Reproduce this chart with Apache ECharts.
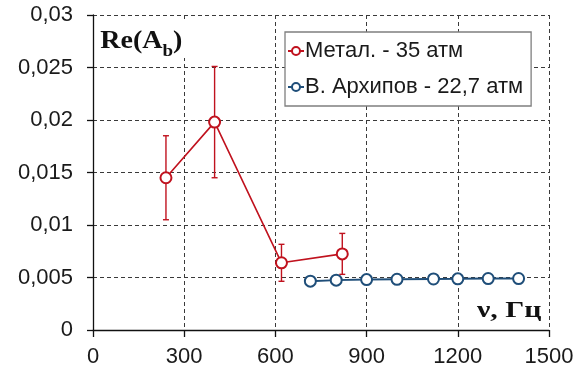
<!DOCTYPE html>
<html>
<head>
<meta charset="utf-8">
<script src="https://cdn.jsdelivr.net/npm/echarts@6/dist/echarts.min.js"></script>
<style>
  html, body { margin: 0; padding: 0; background: #fff; }
  #chart { width: 582px; height: 372px; }
</style>
</head>
<body>
<div id="chart"></div>
<script>
// Frequency (Hz) and Re(A_b) for the two measurement sets
const metalName = 'Метал. - 35 атм';
const metalFreq = [240, 400, 620, 820];
const metalRe = [0.0145, 0.0198, 0.0064, 0.00725];
const metalErr = [0.0040, 0.0053, 0.00176, 0.00195];

const arkhName = 'В. Архипов - 22,7 атм';
const arkhFreq = [715, 800, 900, 1000, 1120, 1200, 1300, 1400];
const arkhRe = [0.00465, 0.00475, 0.0048, 0.00483, 0.00486, 0.00487, 0.0049, 0.0049];

// Axis settings
const xTicks = { min: 0, max: 1500, interval: 300 };
const yTicks = { min: 0, max: 0.03, interval: 0.005 };

const RED = '#c0121e';
const BLUE = '#1f4e79';
const sansFont = '"Liberation Sans", Arial, sans-serif';
const serifFont = '"Liberation Serif", "Times New Roman", serif';

const chart = echarts.init(document.getElementById('chart'));

const gridLine = { show: true, lineStyle: { color: '#3a3a3a', width: 1, type: [4, 3] } };

const option = {
  animation: false,
  backgroundColor: '#fff',
  grid: { left: 93, right: 33, top: 15, bottom: 42, containLabel: false },
  xAxis: {
    type: 'value',
    min: xTicks.min, max: xTicks.max, interval: xTicks.interval,
    axisLine: { show: true, onZero: false, lineStyle: { color: '#111', width: 1.3 } },
    axisTick: { show: true, length: 7, lineStyle: { color: '#111', width: 1.3 } },
    axisLabel: {
      fontFamily: sansFont, fontSize: 22, color: '#1a1a1a', margin: 16,
      formatter: v => String(v)
    },
    splitLine: gridLine
  },
  yAxis: {
    type: 'value',
    min: yTicks.min, max: yTicks.max, interval: yTicks.interval,
    axisLine: { show: true, onZero: false, lineStyle: { color: '#111', width: 1.3 } },
    axisTick: { show: true, length: 6, lineStyle: { color: '#111', width: 1.3 } },
    axisLabel: {
      fontFamily: sansFont, fontSize: 22, color: '#1a1a1a', margin: 20,
      formatter: v => String(+v.toFixed(4)).replace('.', ',')
    },
    splitLine: gridLine
  },
  legend: {
    orient: 'vertical',
    left: 285, top: 32,
    padding: [8, 8, 8, 2],
    itemGap: 14,
    itemWidth: 16, itemHeight: 10,
    backgroundColor: '#fff',
    borderColor: '#7f7f7f', borderWidth: 1.3,
    textStyle: { fontFamily: sansFont, fontSize: 22, color: '#1a1a1a', padding: [0, 0, 0, -4] },
    data: [metalName, arkhName]
  },
  series: [
    {
      name: metalName,
      type: 'line',
      data: metalFreq.map((f, i) => [f, metalRe[i]]),
      symbol: 'circle', symbolSize: 11,
      lineStyle: { color: RED, width: 1.6 },
      itemStyle: { color: '#fff', borderColor: RED, borderWidth: 2 },
      z: 4
    },
    {
      name: 'err',
      type: 'custom',
      data: metalFreq.map((f, i) => [f, metalRe[i] - metalErr[i], metalRe[i] + metalErr[i]]),
      renderItem: (params, api) => {
        const lo = api.coord([api.value(0), api.value(1)]);
        const hi = api.coord([api.value(0), api.value(2)]);
        const cap = 3;
        const style = { stroke: RED, lineWidth: 1.4 };
        return {
          type: 'group',
          children: [
            { type: 'line', shape: { x1: lo[0], y1: lo[1], x2: hi[0], y2: hi[1] }, style },
            { type: 'line', shape: { x1: lo[0] - cap, y1: lo[1], x2: lo[0] + cap, y2: lo[1] }, style },
            { type: 'line', shape: { x1: hi[0] - cap, y1: hi[1], x2: hi[0] + cap, y2: hi[1] }, style }
          ]
        };
      },
      z: 3
    },
    {
      name: arkhName,
      type: 'line',
      data: arkhFreq.map((f, i) => [f, arkhRe[i]]),
      symbol: 'circle', symbolSize: 11,
      lineStyle: { color: BLUE, width: 2 },
      itemStyle: { color: '#fff', borderColor: BLUE, borderWidth: 2 },
      z: 4
    }
  ],
  graphic: [
    {
      type: 'text',
      x: 98, y: 22,
      scaleX: 1.12,
      z: 10,
      style: {
        text: '{a|Re(A}{b|b}{a|)}',
        backgroundColor: '#fff',
        padding: [2, 3, 4, 2],
        rich: {
          a: { fontFamily: serifFont, fontWeight: 'bold', fontSize: 25, fill: '#111', verticalAlign: 'bottom', lineHeight: 30 },
          b: { fontFamily: serifFont, fontWeight: 'bold', fontSize: 17, fill: '#111', verticalAlign: 'bottom', lineHeight: 20, padding: [0, 0, -6, 0] }
        }
      }
    },
    {
      type: 'text',
      x: 477, y: 300,
      scaleX: 1.3,
      z: 10,
      style: {
        text: 'ν, Гц',
        fontFamily: serifFont, fontWeight: 'bold', fontSize: 23, fill: '#111'
      }
    }
  ]
};

chart.setOption(option);
</script>
</body>
</html>
